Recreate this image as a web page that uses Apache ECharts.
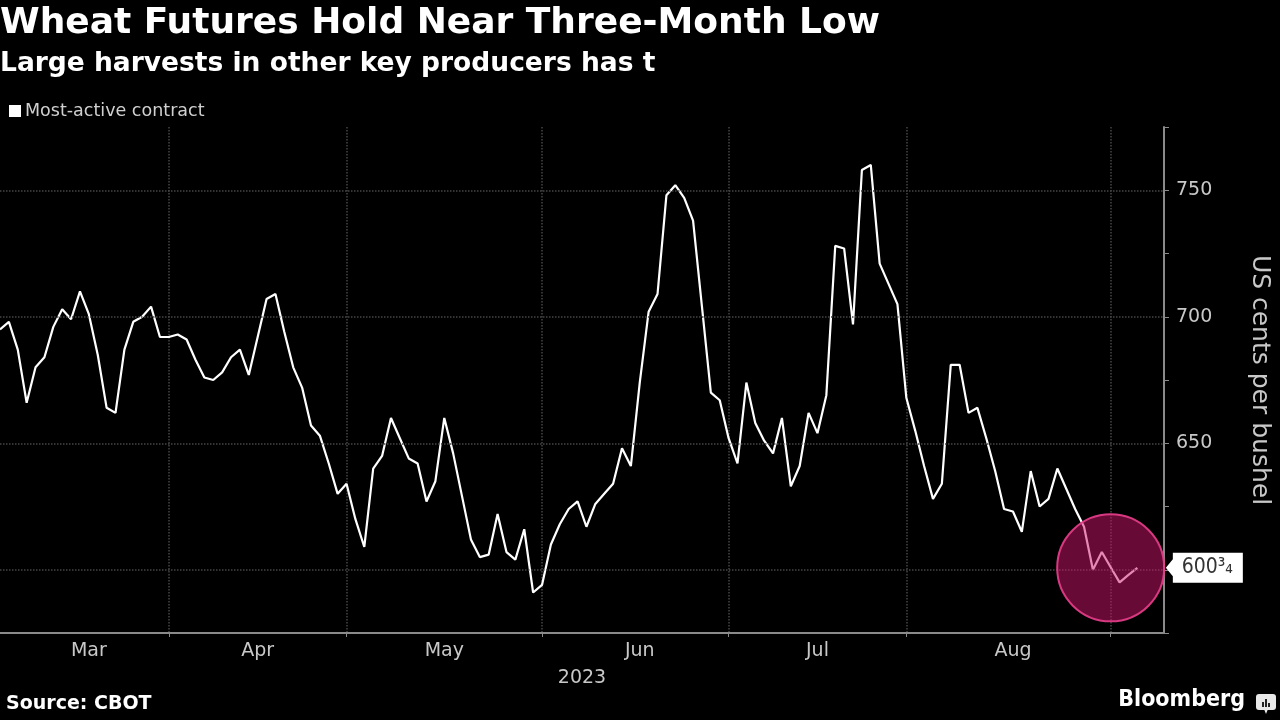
<!DOCTYPE html>
<html><head><meta charset="utf-8">
<script src="https://cdn.jsdelivr.net/npm/echarts@6/dist/echarts.min.js"></script>
<style>html,body{margin:0;padding:0;background:#000;}#chart{width:1280px;height:720px;}</style>
</head><body><div id="chart"></div>
<script>
const titleText = 'Wheat Futures Hold Near Three-Month Low';
const subtitleText = 'Large harvests in other key producers has t';
const seriesName = 'Most-active contract';
const yAxisName = 'US cents per bushel';
const yearLabel = '2023';
const sourceText = 'Source: CBOT';
const brandText = 'Bloomberg';
const monthLabels = ['Jan','Feb','Mar','Apr','May','Jun','Jul','Aug','Sep','Oct','Nov','Dec'];
const startDate = '2023-03-07';
const holidays = ['2023-05-29','2023-06-19','2023-07-04','2023-09-04'];
const totalDays = 132;
const prices = [
  695,698,687,666,680,684,696,703,699,710,
  701,685,664,662,687,698,700,704,692,692,
  693,691,683,676,675,678,684,687,677,692,
  707,709,694,680,672,657,653,642,630,634,
  620,609,640,645,660,652,644,642,627,635,
  660,646,629,612,605,606,622,607,604,616,
  591,594,610,618,624,627,617,626,630,634,
  648,641,674,702,709,748,752,747,738,704,
  670,667,652,642,674,658,651,646,660,633,
  641,662,654,669,728,727,697,758,760,721,
  713,705,668,655,641,628,634,681,681,662,
  664,652,639,624,623,615,639,625,628,640,
  632,624,617,600,607,601,595,598,600.75
];
const gridValues = [600,650,700,750];
const yMin = 575, yMax = 775, yStep = 25, yLabelStep = 50;
const highlightDate = '2023-09-01';

const FONT = "'DejaVu Sans',sans-serif";
const FONT_C = "'DejaVu Sans Condensed','DejaVu Sans',sans-serif";

function buildDates(start, n, hol) {
  const out = []; const d = new Date(start + 'T00:00:00Z');
  while (out.length < n) {
    const wd = d.getUTCDay();
    const s = d.toISOString().slice(0, 10);
    if (wd !== 0 && wd !== 6 && !hol.includes(s)) out.push(s);
    d.setUTCDate(d.getUTCDate() + 1);
  }
  return out;
}
const dates = buildDates(startDate, totalDays, holidays);
const monthOf = s => +s.slice(5, 7);
const isMonthStart = i => i > 0 && monthOf(dates[i]) !== monthOf(dates[i - 1]);
const labelIdx = new Set();
let first = 0;
for (let i = 1; i <= dates.length; i++) {
  if (i === dates.length || isMonthStart(i)) {
    const last = i - 1;
    if (last - first + 1 >= 15) labelIdx.add(Math.round((first + last + 1) / 2));
    first = i;
  }
}
function fmtPrice(v) {
  const w = Math.floor(v); const f = Math.round((v - w) * 4);
  return w + ({1: '¹₄', 2: '¹₂', 3: '³₄'}[f] || '');
}
const lastValue = prices[prices.length - 1];
const lastDate = dates[prices.length - 1];

const chart = echarts.init(document.getElementById('chart'), null, {renderer: 'canvas'});
chart.setOption({
  backgroundColor: '#000',
  animation: false,
  textStyle: {fontFamily: FONT},
  grid: {left: 0, right: 114, top: 127, bottom: 87, containLabel: false},
  legend: {
    data: [seriesName], left: 4, top: 97, icon: 'rect', itemWidth: 12, itemHeight: 12, itemGap: 0,
    textStyle: {color: '#d0d0d0', fontSize: 17.5, fontFamily: FONT, padding: [0, 0, 0, -1]}
  },
  xAxis: {
    type: 'category', data: dates, boundaryGap: false,
    axisLine: {lineStyle: {color: '#8a8a8a', width: 2}},
    axisTick: {show: true, interval: (i) => isMonthStart(i), length: 4, lineStyle: {color: '#8a8a8a'}},
    axisLabel: {interval: (i) => labelIdx.has(i), formatter: (v) => monthLabels[monthOf(v) - 1],
      color: '#c8c8c8', fontSize: 19, margin: 9, fontFamily: FONT},
    splitLine: {show: true, interval: (i) => isMonthStart(i), lineStyle: {color: '#454545', type: 'dotted', width: 1.5}},
    name: yearLabel, nameLocation: 'middle', nameGap: 36,
    nameTextStyle: {color: '#c8c8c8', fontSize: 19, fontFamily: FONT}
  },
  yAxis: {
    type: 'value', position: 'right', min: yMin, max: yMax, interval: yStep,
    axisLine: {show: true, lineStyle: {color: '#8a8a8a', width: 2}},
    axisTick: {show: true, length: 5, lineStyle: {color: '#8a8a8a'}},
    axisLabel: {formatter: (v) => (v % yLabelStep === 0 ? String(v) : ''), color: '#c8c8c8', fontSize: 19, margin: 12, fontFamily: FONT},
    splitLine: {show: false},
    name: yAxisName, nameLocation: 'middle', nameRotate: -90, nameGap: 83,
    nameTextStyle: {color: '#c8c8c8', fontSize: 25, fontFamily: FONT}
  },
  series: [
    {
      type: 'line', name: 'gridlines', data: [], silent: true, z: 1,
      markLine: {symbol: 'none', silent: true, label: {show: false},
        lineStyle: {color: '#454545', type: 'dotted', width: 1.5},
        data: gridValues.map(v => ({yAxis: v}))}
    },
    {
      type: 'line', name: seriesName, data: prices, showSymbol: false, symbol: 'none', z: 3,
      lineStyle: {color: '#ffffff', width: 2.2}, itemStyle: {color: '#ffffff'},
      markPoint: {
        silent: true,
        data: [
          {coord: [highlightDate, lastValue], symbol: 'circle', symbolSize: 107,
            itemStyle: {color: 'rgba(205,20,105,0.5)', borderColor: 'rgba(225,60,135,0.95)', borderWidth: 2},
            label: {show: false}},
          {coord: [lastDate, lastValue], symbol: 'path://M0,15L7,6.5L7,0L77,0L77,30L7,30L7,23.5Z',
            symbolSize: [77, 30], symbolOffset: [67, 0], symbolKeepAspect: false,
            itemStyle: {color: '#ffffff'},
            label: {show: true, position: 'inside', formatter: fmtPrice(lastValue), color: '#333', fontSize: 21, offset: [3, 0], fontFamily: FONT_C}}
        ]
      }
    }
  ],
  graphic: [
    {type: 'text', left: 0, top: 6, style: {text: titleText, fill: '#fff', font: 'bold 36px ' + FONT}},
    {type: 'text', left: 0, top: 51, style: {text: subtitleText, fill: '#fff', font: 'bold 26.5px ' + FONT}},
    {type: 'text', left: 6, top: 695, style: {text: sourceText, fill: '#fff', font: 'bold 19px ' + FONT}},
    {type: 'text', right: 35, top: 689, style: {text: brandText, fill: '#fff', font: 'bold 23px ' + FONT_C}},
    {type: 'group', right: 4, top: 694, children: [
      {type: 'rect', shape: {x: 0, y: 0, width: 20, height: 16, r: 3}, style: {fill: '#e8e8e8'}},
      {type: 'polygon', shape: {points: [[8, 15], [12, 15], [10, 20]]}, style: {fill: '#e8e8e8'}},
      {type: 'rect', shape: {x: 6, y: 8, width: 2, height: 5}, style: {fill: '#222'}},
      {type: 'rect', shape: {x: 9, y: 5, width: 2, height: 8}, style: {fill: '#222'}},
      {type: 'rect', shape: {x: 12, y: 9, width: 2, height: 4}, style: {fill: '#222'}}
    ]}
  ]
});
</script></body></html>
